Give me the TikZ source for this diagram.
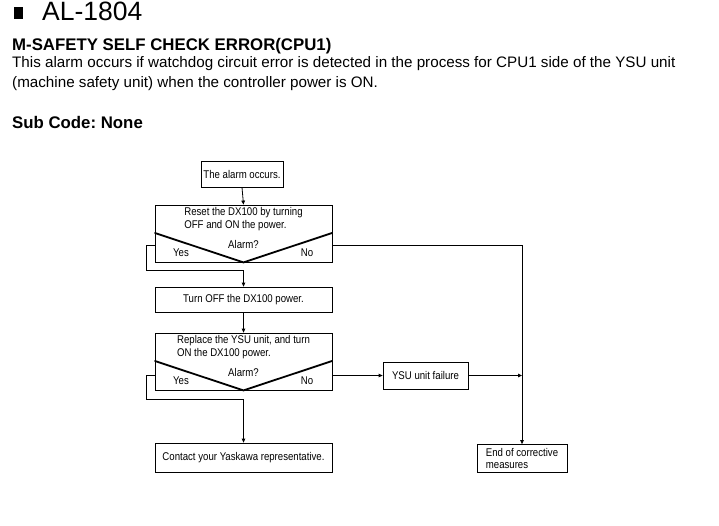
\documentclass[tikz,border=0pt]{standalone}
\usepackage{fontspec}
\setmainfont{Liberation Sans}
\newfontfamily\narrowsans[FakeStretch=0.86]{Liberation Sans}
\usetikzlibrary{arrows.meta,calc}
\frenchspacing
\begin{document}
\begin{tikzpicture}[x=1pt,y=-1pt,
  box/.style={draw, line width=0.8pt, inner sep=0pt, font=\narrowsans\fontsize{11.2}{12.5}\selectfont, align=left},
  lbl/.style={inner sep=0pt, font=\narrowsans\fontsize{11.2}{12.5}\selectfont},
  vee/.style={line width=1.8pt, line cap=round, line join=miter},
  conn/.style={line width=0.8pt},
  arr/.style={conn, -{Triangle[length=4pt,width=3.6pt]}},
  hdr/.style={inner sep=0pt, anchor=base west}]
\useasboundingbox (0,0) rectangle (719,525);
% header texts
\node[fill=black, inner sep=0pt, minimum width=8.5pt, minimum height=11.5pt] (bul) at (18.5,13) {};
\node[hdr, font=\fontsize{26.5}{26}\selectfont] (al) at (42,20) {AL-1804};
\node[hdr, font=\fontsize{16.8}{17}\selectfont\bfseries] (ttl) at (12,50) {M-SAFETY SELF CHECK ERROR(CPU1)};
\node[hdr, font=\fontsize{15.2}{16}\selectfont] (d1) at (12,67) {This alarm occurs if watchdog circuit error is detected in the process for CPU1 side of the YSU unit};
\node[hdr, font=\fontsize{15.2}{16}\selectfont] (d2) at (12,87) {(machine safety unit) when the controller power is ON.};
\node[hdr, font=\fontsize{16.8}{17}\selectfont\bfseries] (sub) at (12,128) {Sub Code: None};
% flowchart
\node[box, minimum width=82pt, minimum height=26pt] (n1) at (242,174) {The alarm occurs.};
\node[box, minimum width=177pt, minimum height=57pt] (b2) at (243.5,233.5) {};
\node[lbl, align=left] (t2) at (243.5,219) {Reset the DX100 by turning\\OFF and ON the power.};
\coordinate (v2l) at (155,233);
\coordinate (v2r) at (332,233);
\draw[vee] (v2l) -- (b2.south) -- (v2r);
\node[lbl] (q2) at (243.5,244) {Alarm?};
\node[lbl] (y2) at (181,253) {Yes};
\node[lbl] (no2) at (307,253) {No};
\coordinate (e2) at (243.5,245);
\node[box, minimum width=177pt, minimum height=25pt] (b3) at (243.5,299.5) {Turn OFF the DX100 power.};
\node[box, minimum width=177pt, minimum height=57pt] (b4) at (243.5,361.5) {};
\node[lbl, align=left] (t4) at (243.5,347) {Replace the YSU unit, and turn\\ON the DX100 power.};
\coordinate (v4l) at (155,361);
\coordinate (v4r) at (332,361);
\draw[vee] (v4l) -- (b4.south) -- (v4r);
\node[lbl] (q4) at (243.5,372) {Alarm?};
\node[lbl] (y4) at (181,381) {Yes};
\node[lbl] (no4) at (307,381) {No};
\node[box, minimum width=177pt, minimum height=29pt] (b5) at (243.5,457.5) {Contact your Yaskawa representative.};
\node[box, minimum width=85pt, minimum height=27pt] (ysu) at (425.5,375.5) {YSU unit failure};
\node[box, minimum width=90pt, minimum height=28pt] (end) at (522,458.5) {End of corrective\\measures};
% connectors
\draw[arr] (n1.south) -- (b2.north);
\draw[arr] (b2.west |- e2) -- ++(-8,0) |- ($(b2.south)+(0,8)$) -- (b3.north);
\draw[arr] (b2.east |- e2) -| (end.north);
\draw[arr] (b3.south) -- (b4.north);
\draw[arr] (b4.west |- ysu.west) -- ++(-8,0) |- ($(b4.south)+(0,9)$) -- (b5.north);
\draw[arr] (b4.east |- ysu.west) -- (ysu.west);
\coordinate (j) at (end.north |- ysu.east);
\draw[arr] (ysu.east) -- (j);
\end{tikzpicture}
\end{document}
